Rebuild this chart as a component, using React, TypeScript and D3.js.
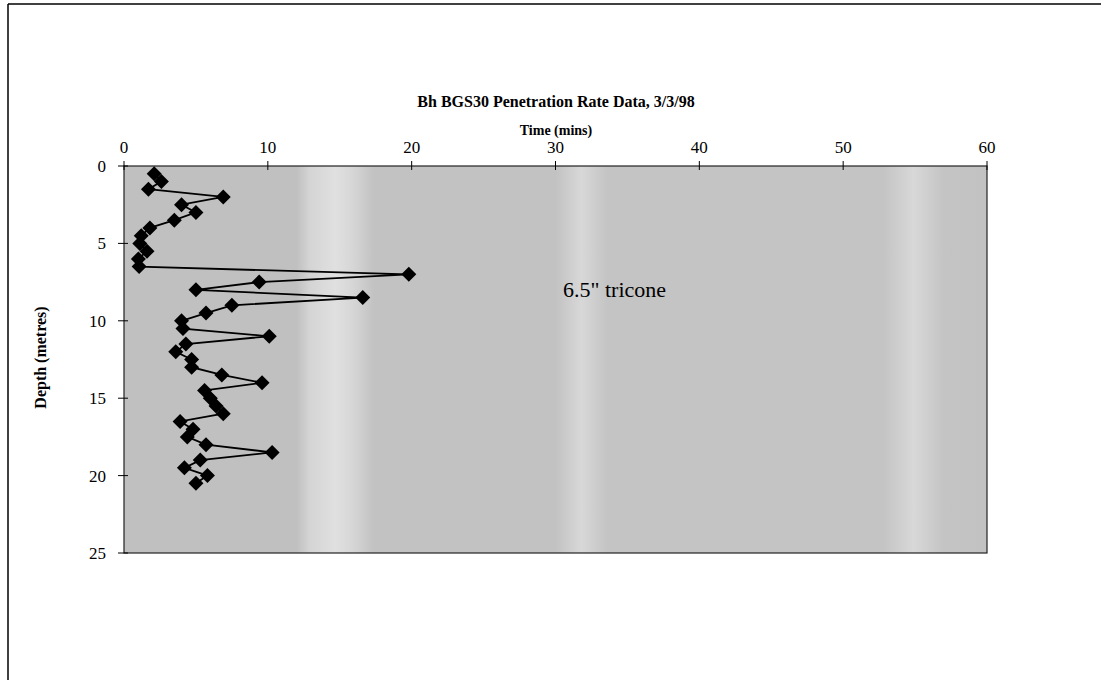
import React from "react";
import * as d3 from "d3";

const depths = [0.5, 1, 1.5, 2, 2.5, 3, 3.5, 4, 4.5, 5, 5.5, 6, 6.5, 7, 7.5, 8, 8.5, 9, 9.5, 10, 10.5, 11, 11.5, 12, 12.5, 13, 13.5, 14, 14.5, 15, 15.5, 16, 16.5, 17, 17.5, 18, 18.5, 19, 19.5, 20, 20.5];
const times = [2.1, 2.6, 1.7, 6.9, 4.0, 5.0, 3.5, 1.8, 1.2, 1.1, 1.6, 1.0, 1.05, 19.8, 9.4, 5.0, 16.6, 7.5, 5.7, 4.0, 4.1, 10.1, 4.3, 3.6, 4.7, 4.7, 6.8, 9.6, 5.6, 6.0, 6.4, 6.9, 3.9, 4.8, 4.4, 5.7, 10.3, 5.3, 4.2, 5.8, 5.0];
const xTicks = [0, 10, 20, 30, 40, 50, 60];
const yTicks = [0, 5, 10, 15, 20, 25];
const title = "Bh BGS30 Penetration Rate Data, 3/3/98";
const xTitle = "Time (mins)";
const yTitle = "Depth (metres)";
const annotation = "6.5\" tricone";

export default function App() {
  const W = 1101, H = 680;
  const x = d3.scaleLinear().domain([0, 60]).range([124, 987]);
  const y = d3.scaleLinear().domain([0, 25]).range([166, 553]);
  const pts = depths.map((d, i) => ({ d, t: times[i] }));
  const line = d3.line<{ d: number; t: number }>().x(p => x(p.t)).y(p => y(p.d));
  const m = 7.5;
  const font = "'Liberation Serif', 'Times New Roman', serif";
  return (
    <svg width={W} height={H} style={{ position: "absolute", left: 0, top: 0, background: "#fff" }} fontFamily={font}>
      <defs>
        <linearGradient id="bg" x1="0" x2="1" y1="0" y2="0">
          <stop offset="0" stopColor="#c0c0c0" />
          <stop offset="0.2" stopColor="#c0c0c0" />
          <stop offset="0.215" stopColor="#d4d4d4" />
          <stop offset="0.245" stopColor="#e0e0e0" />
          <stop offset="0.265" stopColor="#d6d6d6" />
          <stop offset="0.29" stopColor="#c2c2c2" />
          <stop offset="0.5" stopColor="#c2c2c2" />
          <stop offset="0.53" stopColor="#d8d8d8" />
          <stop offset="0.56" stopColor="#c4c4c4" />
          <stop offset="0.88" stopColor="#c4c4c4" />
          <stop offset="0.915" stopColor="#d8d8d8" />
          <stop offset="0.95" stopColor="#c4c4c4" />
          <stop offset="1" stopColor="#c2c2c2" />
        </linearGradient>
      </defs>
      <line x1={8} y1={4} x2={W} y2={4} stroke="#000" strokeWidth={1.5} />
      <line x1={8} y1={4} x2={8} y2={H} stroke="#000" strokeWidth={1.5} />
      <rect x={x(0)} y={y(0)} width={x(60) - x(0)} height={y(25) - y(0)} fill="url(#bg)" stroke="#222" strokeWidth={1.2} />
      {xTicks.map(t => (
        <g key={"x" + t}>
          <line x1={x(t)} x2={x(t)} y1={y(0) - 5} y2={y(0) + 4} stroke="#000" />
          <text x={x(t)} y={y(0) - 13} textAnchor="middle" fontSize={17}>{t}</text>
        </g>
      ))}
      {yTicks.map(t => (
        <g key={"y" + t}>
          <line x1={x(0) - 6} x2={x(0) + 4} y1={y(t)} y2={y(t)} stroke="#000" />
          <text x={x(0) - 18} y={y(t) + 6} textAnchor="end" fontSize={17}>{t}</text>
        </g>
      ))}
      <text x={556} y={107} textAnchor="middle" fontSize={16} fontWeight="bold">{title}</text>
      <text x={556} y={135} textAnchor="middle" fontSize={14} fontWeight="bold">{xTitle}</text>
      <text transform={`translate(46,${y(12.5) - 2}) rotate(-90)`} textAnchor="middle" fontSize={16} fontWeight="bold">{yTitle}</text>
      <path d={line(pts) || ""} fill="none" stroke="#000" strokeWidth={1.8} />
      {pts.map((p, i) => {
        const cx = x(p.t), cy = y(p.d);
        return <path key={i} d={`M${cx},${cy - m}L${cx + m},${cy}L${cx},${cy + m}L${cx - m},${cy}Z`} fill="#000" />;
      })}
      <text x={563} y={297} fontSize={22}>{annotation}</text>
    </svg>
  );
}
